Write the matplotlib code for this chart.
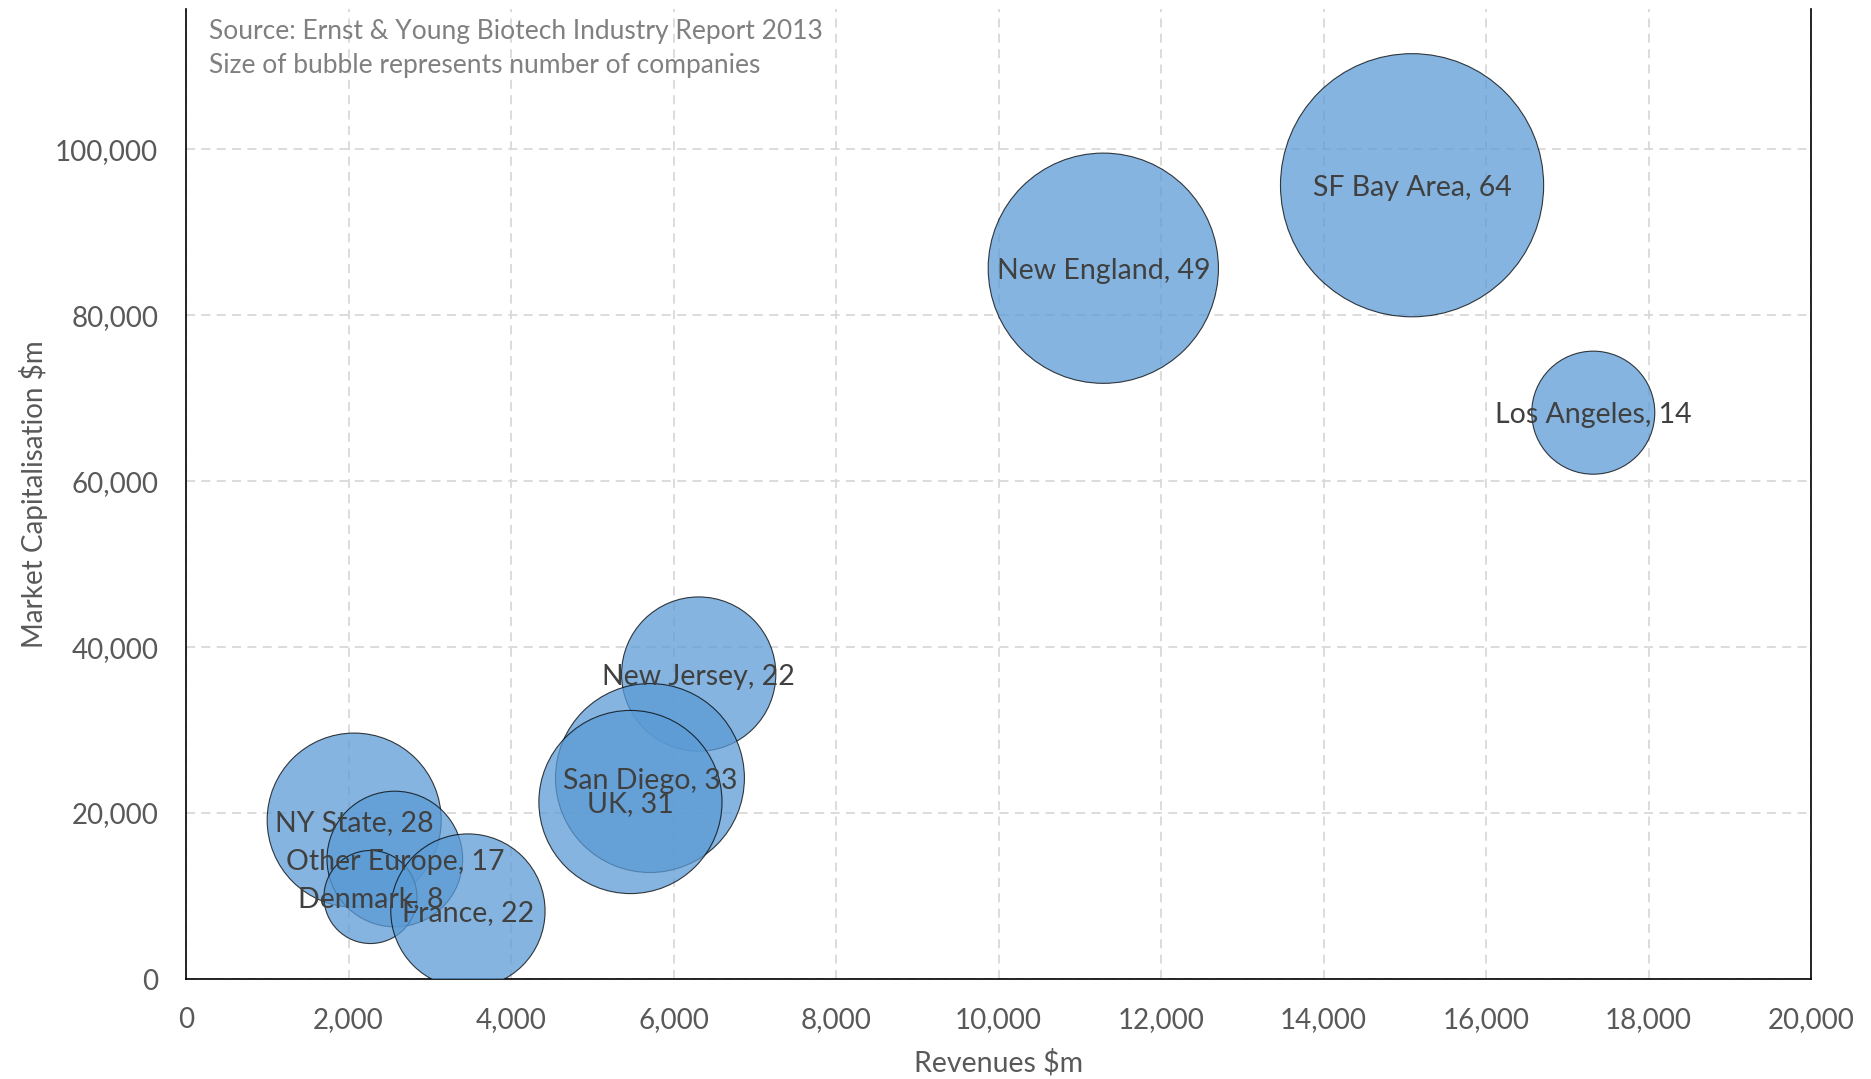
import matplotlib
matplotlib.use("Agg")
import matplotlib.pyplot as plt
from matplotlib.ticker import FuncFormatter, MultipleLocator

regions = ["SF Bay Area", "New England", "Los Angeles", "New Jersey", "San Diego",
           "UK", "NY State", "Other Europe", "Denmark", "France"]
revenues = [15090, 11290, 17320, 6310, 5710, 5470, 2070, 2570, 2270, 3470]
market_cap = [95660, 85660, 68250, 36750, 24220, 21330, 19150, 14460, 9880, 8190]
companies = [64, 49, 14, 22, 33, 31, 28, 17, 8, 22]

note_lines = ["Source: Ernst & Young Biotech Industry Report 2013",
              "Size of bubble represents number of companies"]

plt.rcParams['font.family'] = ['Lato', 'DejaVu Sans']

W, H = 1871, 1079
fig = plt.figure(figsize=(W / 100, H / 100), dpi=100)
left, right, bottom, top = 186, 1811, 979, 9
ax = fig.add_axes([left / W, 1 - bottom / H, (right - left) / W, (bottom - top) / H])

# bubble area proportional to number of companies
scale = 561
ax.scatter(revenues, market_cap, s=[c * scale for c in companies],
           color="#5B9BD5", alpha=0.75, edgecolors="black", linewidths=0.8,
           zorder=3, clip_on=True)
for name, x, y, c in zip(regions, revenues, market_cap, companies):
    ax.text(x, y, "%s, %d" % (name, c), ha="center", va="center_baseline",
            fontsize=20.5, color="#404040", zorder=5)

ax.set_xlim(0, 20000)
ax.set_ylim(0, 116900)
ax.xaxis.set_major_locator(MultipleLocator(2000))
ax.yaxis.set_major_locator(MultipleLocator(20000))
fmt = FuncFormatter(lambda v, p: "{:,.0f}".format(v))
ax.xaxis.set_major_formatter(fmt)
ax.yaxis.set_major_formatter(fmt)

ax.grid(True, color="#D9D9D9", linestyle=(0, (5, 3.5)), linewidth=1.3, zorder=0)
ax.set_axisbelow(True)
ax.tick_params(length=0, labelsize=20, labelcolor="#595959")
ax.tick_params(axis="x", pad=20)
ax.tick_params(axis="y", pad=20)

ax.spines["top"].set_visible(False)
for s in ["left", "right", "bottom"]:
    ax.spines[s].set_color("black")
    ax.spines[s].set_linewidth(1.2)

ax.set_xlabel("Revenues $m", fontsize=20.5, color="#595959", labelpad=12)
ax.set_ylabel("Market Capitalisation $m", fontsize=20, color="#595959", labelpad=5)

for i, line in enumerate(note_lines):
    fig.text(209 / W, 1 - (31 + 35 * i) / H, line, ha="left", va="center",
             fontsize=19, color="#808080")

fig.savefig("out.png", dpi=100)
